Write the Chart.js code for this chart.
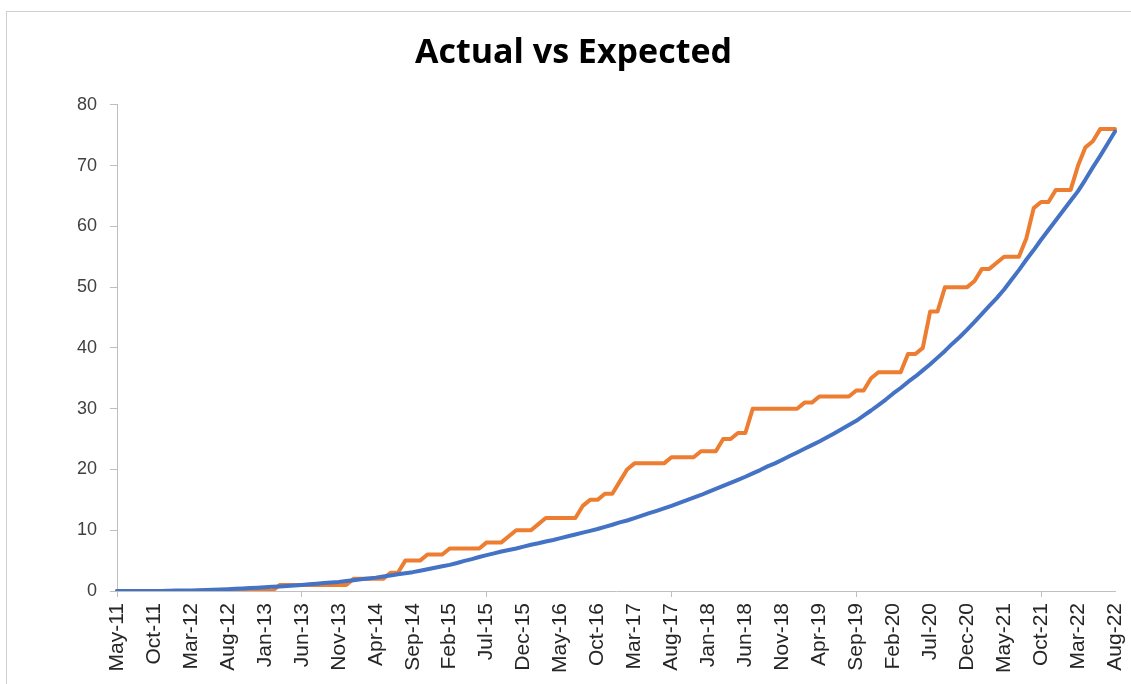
<!DOCTYPE html>
<html>
<head>
<meta charset="utf-8">
<title>Actual vs Expected</title>
<script src="https://cdn.jsdelivr.net/npm/chart.js@4.4.1/dist/chart.umd.min.js"></script>
<style>
  html, body { margin: 0; padding: 0; background: #fff; overflow: hidden; }
  .frame {
    position: absolute; left: 6px; top: 11px;
    width: 1140px; height: 700px;
    border: 1px solid #d0d0d0;
  }
  .wrap { position: absolute; left: 0; top: 0; width: 1131px; height: 684px; }
</style>
</head>
<body>
<div class="frame"></div>
<div class="wrap"><canvas id="actualChart" width="1131" height="684"></canvas></div>
<script>
// months May-11 .. Aug-22
const months = [
  'May-11','Jun-11','Jul-11','Aug-11','Sep-11','Oct-11','Nov-11','Dec-11',
  'Jan-12','Feb-12','Mar-12','Apr-12','May-12','Jun-12','Jul-12','Aug-12','Sep-12','Oct-12','Nov-12','Dec-12',
  'Jan-13','Feb-13','Mar-13','Apr-13','May-13','Jun-13','Jul-13','Aug-13','Sep-13','Oct-13','Nov-13','Dec-13',
  'Jan-14','Feb-14','Mar-14','Apr-14','May-14','Jun-14','Jul-14','Aug-14','Sep-14','Oct-14','Nov-14','Dec-14',
  'Jan-15','Feb-15','Mar-15','Apr-15','May-15','Jun-15','Jul-15','Aug-15','Sep-15','Oct-15','Nov-15','Dec-15',
  'Jan-16','Feb-16','Mar-16','Apr-16','May-16','Jun-16','Jul-16','Aug-16','Sep-16','Oct-16','Nov-16','Dec-16',
  'Jan-17','Feb-17','Mar-17','Apr-17','May-17','Jun-17','Jul-17','Aug-17','Sep-17','Oct-17','Nov-17','Dec-17',
  'Jan-18','Feb-18','Mar-18','Apr-18','May-18','Jun-18','Jul-18','Aug-18','Sep-18','Oct-18','Nov-18','Dec-18',
  'Jan-19','Feb-19','Mar-19','Apr-19','May-19','Jun-19','Jul-19','Aug-19','Sep-19','Oct-19','Nov-19','Dec-19',
  'Jan-20','Feb-20','Mar-20','Apr-20','May-20','Jun-20','Jul-20','Aug-20','Sep-20','Oct-20','Nov-20','Dec-20',
  'Jan-21','Feb-21','Mar-21','Apr-21','May-21','Jun-21','Jul-21','Aug-21','Sep-21','Oct-21','Nov-21','Dec-21',
  'Jan-22','Feb-22','Mar-22','Apr-22','May-22','Jun-22','Jul-22','Aug-22'
];

// blue line
const expected = [
  0, 0, 0, 0, 0, 0, 0, 0.05, 0.07, 0.09,
  0.1, 0.14, 0.18, 0.22, 0.26, 0.3, 0.36, 0.42, 0.48, 0.54,
  0.6, 0.68, 0.76, 0.84, 0.92, 1.0, 1.1, 1.2, 1.3, 1.4,
  1.5, 1.64, 1.78, 1.92, 2.06, 2.2, 2.38, 2.56, 2.74, 2.92,
  3.1, 3.34, 3.58, 3.82, 4.06, 4.3, 4.6, 4.95, 5.25, 5.6,
  5.9, 6.2, 6.5, 6.75, 7.0, 7.3, 7.6, 7.85, 8.15, 8.4,
  8.7, 9.0, 9.3, 9.6, 9.9, 10.2, 10.55, 10.9, 11.3, 11.6,
  12.0, 12.4, 12.8, 13.2, 13.6, 14.0, 14.45, 14.9, 15.35, 15.8,
  16.3, 16.8, 17.3, 17.8, 18.3, 18.8, 19.35, 19.9, 20.5, 21.0,
  21.6, 22.2, 22.8, 23.4, 24.0, 24.6, 25.25, 25.9, 26.6, 27.3,
  28.0, 28.85, 29.7, 30.6, 31.5, 32.5, 33.4, 34.4, 35.3, 36.3,
  37.3, 38.4, 39.5, 40.7, 41.8, 43.0, 44.3, 45.6, 46.9, 48.2,
  49.6, 51.2, 52.8, 54.5, 56.1, 57.8, 59.4, 61.0, 62.6, 64.2,
  65.8, 67.7, 69.7, 71.6, 73.6, 75.6
];

// orange line
const actual = [
  0, 0, 0, 0, 0, 0, 0, 0, 0, 0, 0, 0, 0, 0, 0, 0, 0, 0, 0, 0, 0, 0,
  1, 1, 1, 1, 1, 1, 1, 1, 1, 1,
  2, 2, 2, 2, 2,
  3, 3,
  5, 5, 5,
  6, 6, 6,
  7, 7, 7, 7, 7,
  8, 8, 8,
  9,
  10, 10, 10,
  11,
  12, 12, 12, 12, 12,
  14,
  15, 15,
  16, 16,
  18,
  20,
  21, 21, 21, 21, 21,
  22, 22, 22, 22,
  23, 23, 23,
  25, 25,
  26, 26,
  30, 30, 30, 30, 30, 30, 30,
  31, 31,
  32, 32, 32, 32, 32,
  33, 33,
  35,
  36, 36, 36, 36,
  39, 39,
  40,
  46, 46,
  50, 50, 50, 50,
  51,
  53, 53,
  54,
  55, 55, 55,
  58,
  63,
  64, 64,
  66, 66, 66,
  70,
  73,
  74,
  76, 76, 76
];

const yTicks = [0, 10, 20, 30, 40, 50, 60, 70, 80];
const labelEvery = 5;

const axisGray = '#bfbfbf';

// excel centres the title on the whole frame, nudge it a bit right
const titleNudge = {
  id: 'titleNudge',
  afterLayout(chart) {
    const t = chart.titleBlock;
    if (t) { t.left += 16; t.right += 16; }
  }
};

const ctx = document.getElementById('actualChart');
new Chart(ctx, {
  type: 'line',
  data: {
    labels: months,
    datasets: [
      {
        label: 'Expected',
        data: expected,
        borderColor: '#4472C4',
        borderWidth: 4,
        pointRadius: 0,
        tension: 0,
        borderCapStyle: 'round',
        borderJoinStyle: 'round'
      },
      {
        label: 'Actual',
        data: actual,
        borderColor: '#ED7D31',
        borderWidth: 4,
        pointRadius: 0,
        tension: 0,
        borderCapStyle: 'round',
        borderJoinStyle: 'round'
      }
    ]
  },
  plugins: [titleNudge],
  options: {
    responsive: false,
    animation: false,
    events: [],
    layout: { padding: { left: 0, right: 16, top: 0, bottom: 0 } },
    plugins: {
      legend: { display: false },
      tooltip: { enabled: false },
      title: {
        display: true,
        text: 'Actual vs Expected',
        color: '#000',
        font: { family: 'Open Sans', weight: 'bold', size: 34, lineHeight: 1.2 },
        padding: { top: 33, bottom: 31 }
      }
    },
    scales: {
      x: {
        offset: false,
        border: { display: true, color: axisGray, width: 1 },
        grid: {
          drawOnChartArea: false,
          drawTicks: true,
          tickLength: 6,
          color: c => (c.index % labelEvery === 0 ? axisGray : 'rgba(0,0,0,0)')
        },
        ticks: {
          autoSkip: false,
          maxRotation: 90,
          minRotation: 90,
          padding: 6,
          color: '#262626',
          font: { family: 'Liberation Sans', size: 21 },
          callback: function (val, index) {
            return index % labelEvery === 0 ? this.getLabelForValue(val) : null;
          }
        },
        afterFit: scale => {
          scale.height = 93;
          scale.paddingLeft = 0;
          scale.paddingRight = 0;
        }
      },
      y: {
        min: 0,
        max: 80,
        border: { display: true, color: axisGray, width: 1 },
        grid: { drawOnChartArea: false, drawTicks: true, tickLength: 7, color: axisGray },
        afterBuildTicks: scale => { scale.ticks = yTicks.map(v => ({ value: v })); },
        ticks: {
          padding: 13,
          color: '#404040',
          font: { family: 'Liberation Sans', size: 18 }
        },
        afterFit: scale => { scale.width = 117; }
      }
    }
  }
});
</script>
</body>
</html>
